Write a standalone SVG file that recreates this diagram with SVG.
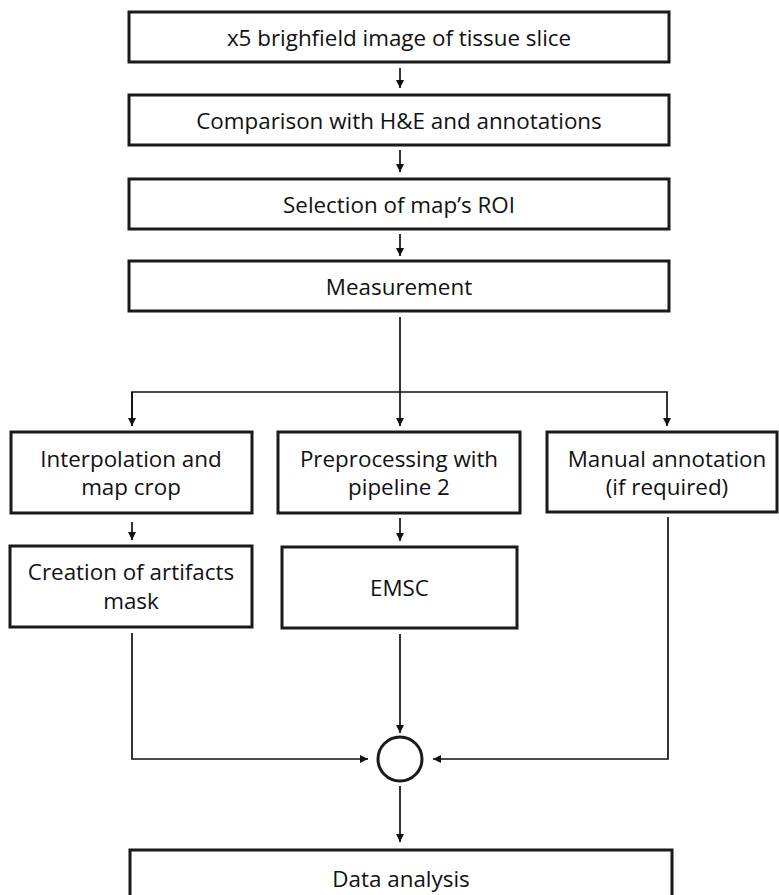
<svg xmlns="http://www.w3.org/2000/svg" width="779" height="895" viewBox="0 0 779 895">
<style>
.box{fill:#ffffff;stroke:#1a1a1a;stroke-width:3}
.t{font-family:"Open Sans","Liberation Sans",sans-serif;font-size:22.4px;fill:#111111;text-anchor:middle}
.c{fill:none;stroke:#111111;stroke-width:1.7}
</style>
<defs>
<marker id="ah" viewBox="0 0 10 10" refX="10" refY="5" markerWidth="8" markerHeight="8" markerUnits="userSpaceOnUse" orient="auto">
<path d="M0,0 L10,5 L0,10 z" fill="#111111"/>
</marker>
</defs>
<rect width="779" height="895" fill="#ffffff"/>
<g id="connectors">
<line class="c" x1="400" y1="68" x2="400" y2="88" marker-end="url(#ah)"/>
<line class="c" x1="400" y1="150" x2="400" y2="172" marker-end="url(#ah)"/>
<line class="c" x1="400" y1="234" x2="400" y2="256" marker-end="url(#ah)"/>
<line class="c" x1="400" y1="317" x2="400" y2="426" marker-end="url(#ah)"/>
<polyline class="c" points="132,426 132,392 667,392 667,426" marker-end="url(#ah)"/>
<line class="c" x1="132" y1="392" x2="132" y2="426" marker-end="url(#ah)"/>
<line class="c" x1="132" y1="522" x2="132" y2="540" marker-end="url(#ah)"/>
<line class="c" x1="400" y1="518" x2="400" y2="541" marker-end="url(#ah)"/>
<line class="c" x1="400" y1="634" x2="400" y2="733" marker-end="url(#ah)"/>
<polyline class="c" points="132,633 132,759 368,759" marker-end="url(#ah)"/>
<polyline class="c" points="668,517 668,759 433,759" marker-end="url(#ah)"/>
<line class="c" x1="400" y1="786" x2="400" y2="842" marker-end="url(#ah)"/>
</g>
<g id="n1"><rect class="box" x="129" y="12" width="540" height="50"/><text class="t" x="399" y="46">x5 brighfield image of tissue slice</text></g>
<g id="n2"><rect class="box" x="129" y="95" width="540" height="50"/><text class="t" x="399" y="129">Comparison with H&amp;E and annotations</text></g>
<g id="n3"><rect class="box" x="129" y="179" width="540" height="50"/><text class="t" x="399" y="213">Selection of map’s ROI</text></g>
<g id="n4"><rect class="box" x="129" y="261" width="540" height="50"/><text class="t" x="399" y="295">Measurement</text></g>
<g id="n5"><rect class="box" x="11" y="432" width="241" height="81"/><text class="t" x="131" y="467">Interpolation and</text><text class="t" x="131" y="495">map crop</text></g>
<g id="n6"><rect class="box" x="278" y="432" width="242" height="81"/><text class="t" x="399" y="467">Preprocessing with</text><text class="t" x="399" y="495">pipeline 2</text></g>
<g id="n7"><rect class="box" x="547" y="432" width="230" height="80"/><text class="t" x="667" y="467">Manual annotation</text><text class="t" x="667" y="495">(if required)</text></g>
<g id="n8"><rect class="box" x="10" y="546" width="242" height="81"/><text class="t" x="131" y="580">Creation of artifacts</text><text class="t" x="131" y="609">mask</text></g>
<g id="n9"><rect class="box" x="282" y="547" width="235" height="81"/><text class="t" x="399.5" y="596">EMSC</text></g>
<g id="n10"><circle cx="400" cy="759" r="22" fill="#ffffff" stroke="#1a1a1a" stroke-width="3"/></g>
<g id="n11"><rect class="box" x="130" y="850" width="542" height="60"/><text class="t" x="401" y="887">Data analysis</text></g>
</svg>
